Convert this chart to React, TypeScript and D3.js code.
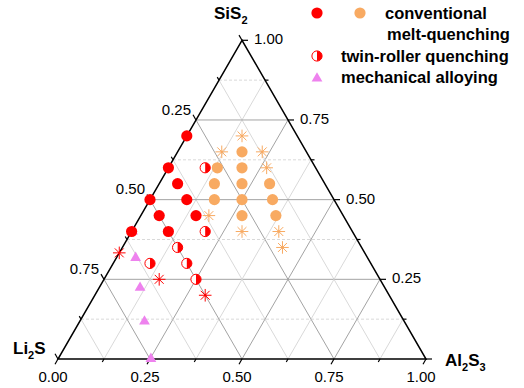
import React from "react";
import * as d3 from "d3";

// Compositions as [Li2S, Al2S3, SiS2] mole fractions
const redConventional: number[][] = [
  [0.30, 0.00, 0.70], [0.40, 0.00, 0.60], [0.40, 0.05, 0.55], [0.50, 0.00, 0.50],
  [0.40, 0.10, 0.50], [0.50, 0.05, 0.45], [0.40, 0.15, 0.45], [0.60, 0.00, 0.40],
  [0.50, 0.10, 0.40],
];
const redTwinRoller: number[][] = [
  [0.30, 0.10, 0.60], [0.40, 0.20, 0.40], [0.50, 0.15, 0.35], [0.60, 0.10, 0.30],
  [0.50, 0.20, 0.30], [0.50, 0.25, 0.25],
];
const redStars: number[][] = [
  [0.667, 0.00, 0.333], [0.60, 0.15, 0.25], [0.50, 0.30, 0.20],
];
const orangeConventional: number[][] = [
  [0.175, 0.175, 0.65], [0.267, 0.133, 0.60], [0.20, 0.20, 0.60], [0.30, 0.15, 0.55],
  [0.225, 0.225, 0.55], [0.15, 0.30, 0.55], [0.325, 0.175, 0.50], [0.25, 0.25, 0.50],
  [0.167, 0.333, 0.50], [0.275, 0.275, 0.45], [0.183, 0.367, 0.45],
];
const orangeStars: number[][] = [
  [0.15, 0.15, 0.70], [0.23, 0.12, 0.65], [0.12, 0.23, 0.65], [0.133, 0.267, 0.60],
  [0.365, 0.185, 0.45], [0.30, 0.30, 0.40], [0.20, 0.40, 0.40], [0.215, 0.435, 0.35],
];
const mechanicalAlloying: number[][] = [
  [0.595, 0.00, 0.405], [0.628, 0.05, 0.322], [0.663, 0.109, 0.228], [0.704, 0.174, 0.122],
  [0.75, 0.25, 0.005],
];

const bottomTickLabels = ["0.00", "0.25", "0.50", "0.75", "1.00"];
const rightTickLabels = ["0.25", "0.50", "0.75", "1.00"];
const leftTickLabels = ["0.25", "0.50", "0.75"];
const legendLabels = ["conventional", "melt-quenching", "twin-roller quenching", "mechanical alloying"];

const RED = "#FF0000";
const ORANGE = "#F8AA62";
const VIOLET = "#EE82EE";
const FONT = "'Liberation Sans', Arial, sans-serif";

const X0 = 58, X1 = 426, BASE = 359;
const H = ((X1 - X0) * Math.sqrt(3)) / 2;
const xs = d3.scaleLinear().domain([0, 1]).range([X0, X1]);
const ys = d3.scaleLinear().domain([0, 1]).range([BASE, BASE - H]);
const pos = (p: number[]): [number, number] => [xs(p[1] + p[2] / 2), ys(p[2])];

const Dot = ({ x, y, color }: any) => <circle cx={x} cy={y} r={5.6} fill={color} />;
const Half = ({ x, y }: any) => {
  const r = 5.1;
  return (
    <g transform={`translate(${x},${y})`}>
      <circle r={r} fill="#fff" stroke={RED} strokeWidth={1} />
      <path d={`M0,${-r}A${r},${r} 0 0 1 0,${r}Z`} fill={RED} />
    </g>
  );
};
const Tri = ({ x, y }: any) => (
  <path transform={`translate(${x},${y})`} d="M0,-4.8L5.4,4.5L-5.4,4.5Z" fill={VIOLET} />
);
const Star = ({ x, y, color }: any) => {
  const r = 6.3;
  const angles = [0, 45, 90, 135];
  return (
    <g transform={`translate(${x},${y})`} stroke={color} strokeWidth={1}>
      {angles.map((a) => {
        const t = (a * Math.PI) / 180;
        return <line key={a} x1={-r * Math.cos(t)} y1={-r * Math.sin(t)} x2={r * Math.cos(t)} y2={r * Math.sin(t)} />;
      })}
      <circle r={1.2} fill={color} stroke="none" />
    </g>
  );
};

export default function App() {
  const ticks = d3.range(0, 9).map((i) => i / 8);
  const gridVals = ticks.filter((v) => v > 0 && v < 1);
  const grid: any[] = [];
  gridVals.forEach((v, i) => {
    const major = Math.abs(v * 4 - Math.round(v * 4)) < 1e-9;
    const stroke = major ? "#A3A3A3" : "#D9D9D9";
    const h1 = pos([1 - v, 0, v]), h2 = pos([0, 1 - v, v]);
    grid.push(<line key={`h${i}`} x1={h1[0]} y1={h1[1]} x2={h2[0]} y2={h2[1]} stroke={stroke} strokeWidth={1} strokeDasharray={major ? undefined : "3,2"} />);
    const b1 = pos([1 - v, v, 0]), b2 = pos([0, v, 1 - v]);
    grid.push(<line key={`b${i}`} x1={b1[0]} y1={b1[1]} x2={b2[0]} y2={b2[1]} stroke={stroke} strokeWidth={1} />);
    const a1 = pos([v, 1 - v, 0]), a2 = pos([v, 0, 1 - v]);
    grid.push(<line key={`a${i}`} x1={a1[0]} y1={a1[1]} x2={a2[0]} y2={a2[1]} stroke={stroke} strokeWidth={1} />);
  });

  const tickMarks: any[] = [];
  const s3 = Math.sqrt(3) / 2;
  ticks.forEach((v, i) => {
    const len = i % 2 === 0 ? 6 : 3.5;
    const pb = pos([1 - v, v, 0]);
    tickMarks.push(<line key={`tb${i}`} x1={pb[0]} y1={pb[1]} x2={pb[0] - 0.5 * len} y2={pb[1] + s3 * len} />);
    const pr = pos([0, 1 - v, v]);
    tickMarks.push(<line key={`tr${i}`} x1={pr[0]} y1={pr[1]} x2={pr[0] + len} y2={pr[1]} />);
    const pl = pos([v, 0, 1 - v]);
    tickMarks.push(<line key={`tl${i}`} x1={pl[0]} y1={pl[1]} x2={pl[0] - 0.5 * len} y2={pl[1] - s3 * len} />);
  });

  const A = pos([0, 0, 1]), L = pos([1, 0, 0]), R = pos([0, 1, 0]);

  return (
    <svg width={524} height={388} style={{ position: "absolute", left: 0, top: 0, background: "#fff" }} fontFamily={FONT}>
      <rect width={524} height={388} fill="#fff" />
      <g>{grid}</g>
      <path d={`M${A[0]},${A[1]}L${L[0]},${L[1]}L${R[0]},${R[1]}Z`} fill="none" stroke="#000" strokeWidth={1.5} strokeLinejoin="miter" />
      <g stroke="#000" strokeWidth={1.2}>{tickMarks}</g>

      {bottomTickLabels.map((t) => {
        const p = pos([1 - parseFloat(t), parseFloat(t), 0]);
        return <text key={`lb${t}`} x={p[0] - 5} y={382} fontSize={15} textAnchor="middle">{t}</text>;
      })}
      {rightTickLabels.map((t) => {
        const v = parseFloat(t);
        const p = pos([0, 1 - v, v]);
        return <text key={`lr${t}`} x={p[0] + 12} y={p[1] + 4} fontSize={15}>{t}</text>;
      })}
      {leftTickLabels.map((t) => {
        const v = parseFloat(t);
        const p = pos([v, 0, 1 - v]);
        return <text key={`ll${t}`} x={p[0] - 5} y={p[1] - s3 * 6} fontSize={15} textAnchor="end">{t}</text>;
      })}

      <text x={214} y={19} fontSize={17} fontWeight="bold">SiS<tspan fontSize={11} dy={5}>2</tspan></text>
      <text x={13} y={354} fontSize={17} fontWeight="bold">Li<tspan fontSize={11} dy={5}>2</tspan><tspan dy={-5}>S</tspan></text>
      <text x={445} y={366} fontSize={17} fontWeight="bold">Al<tspan fontSize={11} dy={5}>2</tspan><tspan dy={-5}>S</tspan><tspan fontSize={11} dy={5}>3</tspan></text>

      {mechanicalAlloying.map((p, i) => { const q = pos(p); return <Tri key={`m${i}`} x={q[0]} y={q[1]} />; })}
      {orangeConventional.map((p, i) => { const q = pos(p); return <Dot key={`oc${i}`} x={q[0]} y={q[1]} color={ORANGE} />; })}
      {orangeStars.map((p, i) => { const q = pos(p); return <Star key={`os${i}`} x={q[0]} y={q[1]} color={ORANGE} />; })}
      {redConventional.map((p, i) => { const q = pos(p); return <Dot key={`rc${i}`} x={q[0]} y={q[1]} color={RED} />; })}
      {redTwinRoller.map((p, i) => { const q = pos(p); return <Half key={`rt${i}`} x={q[0]} y={q[1]} />; })}
      {redStars.map((p, i) => { const q = pos(p); return <Star key={`rs${i}`} x={q[0]} y={q[1]} color={RED} />; })}

      <g fontSize={16.5} fontWeight="bold">
        <Dot x={317} y={13} color={RED} />
        <Dot x={360} y={13} color={ORANGE} />
        <text x={385} y={19}>{legendLabels[0]}</text>
        <text x={387} y={40}>{legendLabels[1]}</text>
        <Half x={317} y={56} />
        <text x={341} y={62}>{legendLabels[2]}</text>
        <Tri x={317} y={77} />
        <text x={341} y={83}>{legendLabels[3]}</text>
      </g>
    </svg>
  );
}
